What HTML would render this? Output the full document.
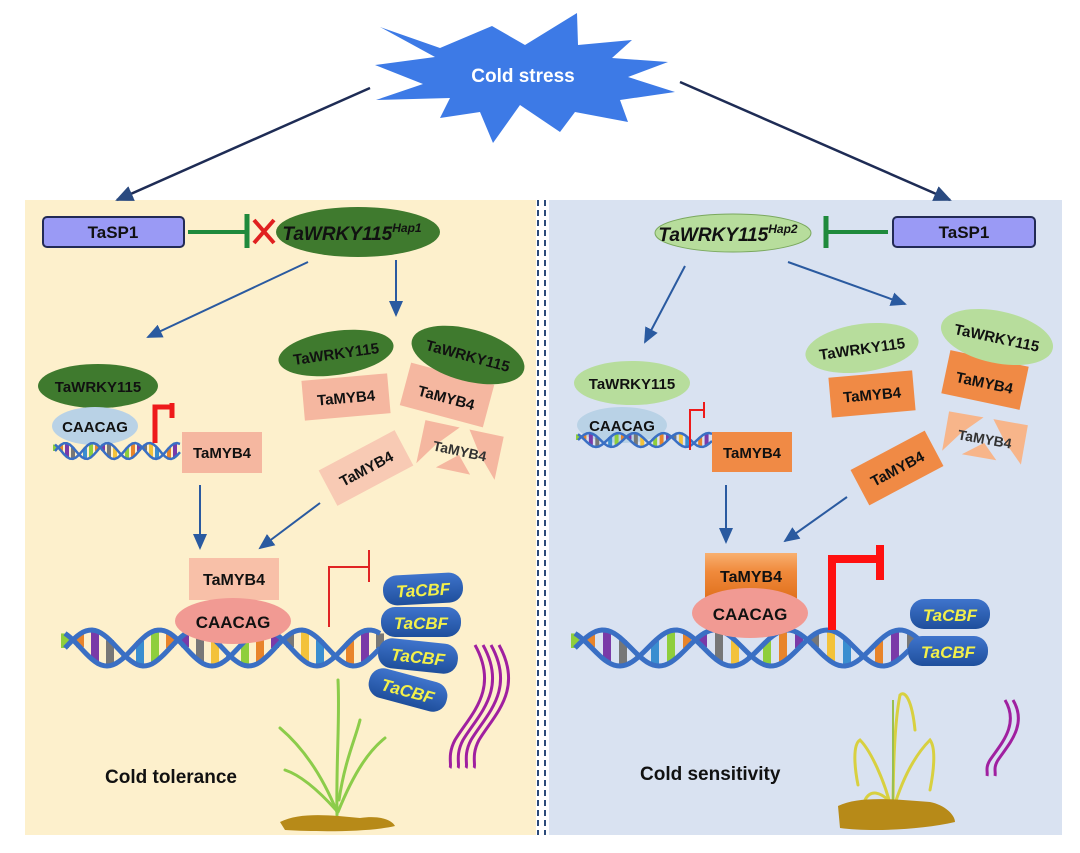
<!DOCTYPE html>
<html><head><meta charset="utf-8"><style>
body{margin:0;background:#fff;}
svg text{font-family:"Liberation Sans",sans-serif;font-weight:bold;}
</style></head><body>
<svg id="s" width="1080" height="848" viewBox="0 0 1080 848" xmlns="http://www.w3.org/2000/svg">
<defs>
<marker id="ah" markerWidth="16" markerHeight="14" refX="14" refY="7" orient="auto" markerUnits="userSpaceOnUse"><path d="M0,0 L16,7 L0,14z" fill="#2a5aa0"/></marker>
<marker id="ah2" markerWidth="18" markerHeight="16" refX="16" refY="8" orient="auto" markerUnits="userSpaceOnUse"><path d="M0,0 L18,8 L0,16z" fill="#2a4a80"/></marker>
<linearGradient id="og" x1="0" y1="0" x2="0" y2="1"><stop offset="0" stop-color="#f8b070"/><stop offset="0.4" stop-color="#f08a3c"/><stop offset="1" stop-color="#e0701c"/></linearGradient>
<linearGradient id="pill" x1="0" y1="0" x2="0" y2="1"><stop offset="0" stop-color="#3f74cc"/><stop offset="1" stop-color="#1f4f9c"/></linearGradient>
</defs>
<rect x="25" y="200" width="511" height="635" fill="#fdf0cc"/>
<rect x="549" y="200" width="513" height="635" fill="#d9e2f1"/>
<line x1="538" y1="200" x2="538" y2="835" stroke="#2b4a7a" stroke-width="2" stroke-dasharray="6,4"/>
<line x1="545" y1="200" x2="545" y2="835" stroke="#2b4a7a" stroke-width="2" stroke-dasharray="6,4"/>

<!-- star -->
<polygon points="380,27 440,48 492,26 525,45 577,13 578,45 632,40 612,58 668,62 628,77 675,92 620,100 628,122 575,112 560,132 520,105 493,143 480,112 440,118 450,98 376,100 423,84 375,65 435,57" fill="#3d7ae6"/>
<text x="523" y="82" font-size="19" fill="#fff" text-anchor="middle">Cold stress</text>
<line x1="370" y1="88" x2="117" y2="200" stroke="#1e2c55" stroke-width="2.5" marker-end="url(#ah2)"/>
<line x1="680" y1="82" x2="950" y2="200" stroke="#1e2c55" stroke-width="2.5" marker-end="url(#ah2)"/>

<!-- LEFT -->
<rect x="43" y="217" width="141" height="30" rx="4" fill="#9a9af5" stroke="#222a55" stroke-width="2"/>
<text x="113" y="238" font-size="17" text-anchor="middle" fill="#111">TaSP1</text>
<line x1="188" y1="232" x2="247" y2="232" stroke="#1f8a3c" stroke-width="4"/>
<line x1="247" y1="214" x2="247" y2="248" stroke="#1f8a3c" stroke-width="5"/>
<path d="M254,220 L274,243 M274,220 L254,243" stroke="#e02020" stroke-width="4"/>
<ellipse cx="358" cy="232" rx="82" ry="25" fill="#3f7a2e"/>
<text x="352" y="240" font-size="19" font-style="italic" text-anchor="middle" fill="#111">TaWRKY115<tspan font-size="12" dy="-8">Hap1</tspan></text>
<line x1="308" y1="262" x2="148" y2="337" stroke="#2a5aa0" stroke-width="2" marker-end="url(#ah)"/>
<line x1="396" y1="260" x2="396" y2="315" stroke="#2a5aa0" stroke-width="2" marker-end="url(#ah)"/>

<ellipse cx="98" cy="386" rx="60" ry="22" fill="#3f7a2e"/>
<text x="98" y="392" font-size="15" text-anchor="middle" fill="#111">TaWRKY115</text>
<ellipse cx="95" cy="426" rx="43" ry="19" fill="#b9d2e6"/>
<text x="95" y="432" font-size="15" text-anchor="middle" fill="#111">CAACAG</text>
<g id="dna1"></g>
<path d="M155,443 V407 H171" stroke="#ee1a1a" stroke-width="5" fill="none"/>
<line x1="172" y1="403" x2="172" y2="418" stroke="#ee1a1a" stroke-width="5"/>
<rect x="182" y="432" width="80" height="41" fill="#f5b7a0"/>
<text x="222" y="458" font-size="15" text-anchor="middle" fill="#111">TaMYB4</text>

<g transform="translate(346,397) rotate(-5)"><rect x="-43" y="-20" width="86" height="40" fill="#f5b7a0"/><text y="6" font-size="15" text-anchor="middle" fill="#111">TaMYB4</text></g>
<g transform="translate(336,353) rotate(-8)"><ellipse rx="58" ry="22" fill="#3f7a2e"/><text y="6" font-size="15" text-anchor="middle" fill="#111">TaWRKY115</text></g>
<g transform="translate(447,395) rotate(15)"><rect x="-43" y="-22" width="86" height="44" fill="#f5b7a0"/><text y="8" font-size="15" text-anchor="middle" fill="#111">TaMYB4</text></g>
<g transform="translate(468,355) rotate(15)"><ellipse rx="58" ry="26" fill="#3f7a2e"/><text y="6" font-size="15" text-anchor="middle" fill="#111">TaWRKY115</text></g>
<g transform="translate(460,450) rotate(12)"><polygon points="-40,-22 -5,-22 -25,0 -40,22" fill="#f5b7a0"/><polygon points="5,-22 40,-22 40,22 20,0" fill="#f5b7a0"/><polygon points="-20,22 0,5 15,22" fill="#f5b7a0"/><text y="6" font-size="14" text-anchor="middle" fill="#333">TaMYB4</text></g>
<g transform="translate(366,468) rotate(-28)"><rect x="-43" y="-20" width="86" height="40" fill="#f8cab4"/><text y="6" font-size="15" text-anchor="middle" fill="#111">TaMYB4</text></g>
<line x1="200" y1="485" x2="200" y2="548" stroke="#2a5aa0" stroke-width="2" marker-end="url(#ah)"/>
<line x1="320" y1="503" x2="260" y2="548" stroke="#2a5aa0" stroke-width="2" marker-end="url(#ah)"/>

<rect x="189" y="558" width="90" height="42" fill="#f8c0a8"/>
<text x="234" y="585" font-size="16" text-anchor="middle" fill="#111">TaMYB4</text>
<g id="dna2"></g>
<ellipse cx="233" cy="621" rx="58" ry="23" fill="#f19a93"/>
<text x="233" y="628" font-size="17" text-anchor="middle" fill="#111">CAACAG</text>
<path d="M329,627 V567 H368" stroke="#e02424" stroke-width="2" fill="none"/>
<line x1="369" y1="550" x2="369" y2="582" stroke="#e02424" stroke-width="2"/>
<g id="cbf1"></g>
<g fill="none" stroke="#a020a0" stroke-width="3">
<path d="M475,645 C500,690 470,715 455,740 C447,755 452,765 450,768"/>
<path d="M483,645 C508,690 478,715 463,740 C455,755 460,765 458,768"/>
<path d="M491,645 C516,690 486,715 471,740 C463,755 468,765 466,768"/>
<path d="M499,645 C524,690 494,715 479,740 C471,755 476,765 474,768"/>
</g>
<text x="105" y="783" font-size="19" fill="#111">Cold tolerance</text>
<g stroke="#8ccc4a" stroke-width="3" fill="none" stroke-linecap="round">
<path d="M337,815 C336,760 340,720 338,680"/>
<path d="M337,812 C320,770 300,745 280,728"/>
<path d="M338,812 C355,770 370,750 385,738"/>
<path d="M336,810 C318,790 300,775 285,770"/>
<path d="M339,800 C345,760 355,740 360,720"/>
</g>
<path d="M280,822 C300,812 330,815 360,818 C380,815 392,820 395,826 C370,832 320,832 285,830 Z" fill="#b78a18"/>

<!-- RIGHT -->
<ellipse cx="733" cy="233" rx="78" ry="19" fill="#b7dd9c" stroke="#7aa85e" stroke-width="1"/>
<text x="728" y="241" font-size="19" font-style="italic" text-anchor="middle" fill="#111">TaWRKY115<tspan font-size="12" dy="-8">Hap2</tspan></text>
<line x1="826" y1="232" x2="888" y2="232" stroke="#1f8a3c" stroke-width="4"/>
<line x1="826" y1="216" x2="826" y2="248" stroke="#1f8a3c" stroke-width="5"/>
<rect x="893" y="217" width="142" height="30" rx="4" fill="#9a9af5" stroke="#222a55" stroke-width="2"/>
<text x="964" y="238" font-size="17" text-anchor="middle" fill="#111">TaSP1</text>
<line x1="685" y1="266" x2="645" y2="342" stroke="#2a5aa0" stroke-width="2" marker-end="url(#ah)"/>
<line x1="788" y1="262" x2="905" y2="304" stroke="#2a5aa0" stroke-width="2" marker-end="url(#ah)"/>

<ellipse cx="632" cy="383" rx="58" ry="22" fill="#b7dd9c"/>
<text x="632" y="389" font-size="15" text-anchor="middle" fill="#111">TaWRKY115</text>
<ellipse cx="622" cy="425" rx="45" ry="18" fill="#b9d2e6"/>
<text x="622" y="431" font-size="15" text-anchor="middle" fill="#111">CAACAG</text>
<g id="dna3"></g>
<path d="M690,450 V410 H703" stroke="#ee1a1a" stroke-width="2" fill="none"/>
<line x1="704" y1="402" x2="704" y2="418" stroke="#ee1a1a" stroke-width="2"/>
<rect x="712" y="432" width="80" height="40" fill="#f08a45"/>
<text x="752" y="458" font-size="15" text-anchor="middle" fill="#111">TaMYB4</text>

<g transform="translate(872,394) rotate(-5)"><rect x="-42" y="-20" width="84" height="40" fill="#f08a45"/><text y="6" font-size="15" text-anchor="middle" fill="#111">TaMYB4</text></g>
<g transform="translate(862,348) rotate(-8)"><ellipse rx="57" ry="24" fill="#b7dd9c"/><text y="6" font-size="15" text-anchor="middle" fill="#111">TaWRKY115</text></g>
<g transform="translate(985,380) rotate(12)"><rect x="-40" y="-22" width="80" height="44" fill="#f08a45"/><text y="8" font-size="15" text-anchor="middle" fill="#111">TaMYB4</text></g>
<g transform="translate(997,337) rotate(12)"><ellipse rx="57" ry="26" fill="#b7dd9c"/><text y="6" font-size="15" text-anchor="middle" fill="#111">TaWRKY115</text></g>
<g transform="translate(985,438) rotate(10)"><polygon points="-40,-20 -5,-20 -25,0 -40,20" fill="#f7b58a"/><polygon points="5,-20 40,-20 40,20 20,0" fill="#f7b58a"/><polygon points="-20,20 0,5 15,20" fill="#f7b58a"/><text y="6" font-size="14" text-anchor="middle" fill="#333">TaMYB4</text></g>
<g transform="translate(897,468) rotate(-28)"><rect x="-42" y="-20" width="84" height="40" fill="#f08a45"/><text y="6" font-size="15" text-anchor="middle" fill="#111">TaMYB4</text></g>
<line x1="726" y1="485" x2="726" y2="542" stroke="#2a5aa0" stroke-width="2" marker-end="url(#ah)"/>
<line x1="847" y1="497" x2="785" y2="541" stroke="#2a5aa0" stroke-width="2" marker-end="url(#ah)"/>

<rect x="705" y="553" width="92" height="46" fill="url(#og)"/>
<text x="751" y="582" font-size="16" text-anchor="middle" fill="#111">TaMYB4</text>
<g id="dna4"></g>
<ellipse cx="750" cy="613" rx="58" ry="25" fill="#f19a93"/>
<text x="750" y="620" font-size="17" text-anchor="middle" fill="#111">CAACAG</text>
<path d="M832,630 V559 H880" stroke="#ff1010" stroke-width="8" fill="none"/>
<line x1="880" y1="545" x2="880" y2="580" stroke="#ff1010" stroke-width="8"/>
<g id="cbf2"></g>
<g fill="none" stroke="#a020a0" stroke-width="3">
<path d="M1005,700 C1020,725 1000,745 990,760 C985,768 988,772 987,776"/>
<path d="M1013,700 C1028,725 1008,745 998,760 C993,768 996,772 995,776"/>
</g>
<text x="640" y="780" font-size="19" fill="#111">Cold sensitivity</text>
<g stroke="#d8d040" stroke-width="3" fill="none" stroke-linecap="round">
<path d="M893,815 C893,760 895,720 900,695 C905,690 912,700 915,730"/>
<path d="M892,812 C885,780 870,750 860,740 C852,745 855,770 858,785"/>
<path d="M893,810 C905,770 920,750 930,740 C936,748 934,770 930,790"/>
<path d="M893,805 C880,790 870,790 865,800"/>
</g>
<path d="M893,815 V700" stroke="#9ac050" stroke-width="2"/>
<path d="M838,806 C860,795 900,800 930,802 C945,805 955,815 955,822 C920,830 870,832 840,828 Z" fill="#b78a18"/>
</svg>
<script>
var NS="http://www.w3.org/2000/svg";
function el(t,a,p){var e=document.createElementNS(NS,t);for(var k in a)e.setAttribute(k,a[k]);p.appendChild(e);return e;}
function dna(id,x0,x1,yc,amp,per,sw){
 var g=document.getElementById(id);var cols=["#8fce3c","#e8842a","#7a3aa8","#777","#f3c23a","#3a8ed0"];
 var n=Math.round((x1-x0)/3),i,k=0;
 for(var x=x0;x<=x1;x+=per/7){
  var ya=yc-amp*Math.sin((x-x0)/per*2*Math.PI), yb=yc-amp*Math.sin((x-x0)/per*2*Math.PI+2.2);
  el("line",{x1:x,y1:ya,x2:x,y2:yb,stroke:cols[k%6],"stroke-width":sw*1.6},g);k++;
 }
 for(var ph of [0,2.2]){var d="";for(i=0;i<=n;i++){var x=x0+(x1-x0)*i/n;var y=yc-amp*Math.sin((x-x0)/per*2*Math.PI+ph);d+=(i?"L":"M")+x.toFixed(1)+","+y.toFixed(1);}
  el("path",{d:d,stroke:"#3a6fc4","stroke-width":sw,fill:"none"},g);}
}
dna("dna1",55,180,451,8,42,2.5);
dna("dna2",65,380,648,18,105,5);
dna("dna3",578,712,440,7,45,2.5);
dna("dna4",575,920,648,18,112,5);
function pill(id,list){var g=document.getElementById(id);list.forEach(function(p){
 var t=el("g",{transform:"translate("+p[0]+","+p[1]+") rotate("+p[2]+")"},g);
 el("rect",{x:-40,y:-15,width:80,height:30,rx:14,fill:"url(#pill)"},t);
 var tx=el("text",{y:7,"font-size":17,"text-anchor":"middle",fill:"#f3f04a","font-style":"italic"},t);tx.textContent="TaCBF";});}
pill("cbf1",[[423,589,-3],[421,622,0],[418,656,6],[408,690,15]]);
pill("cbf2",[[950,614,0],[948,651,0]]);
</script>
</body></html>
